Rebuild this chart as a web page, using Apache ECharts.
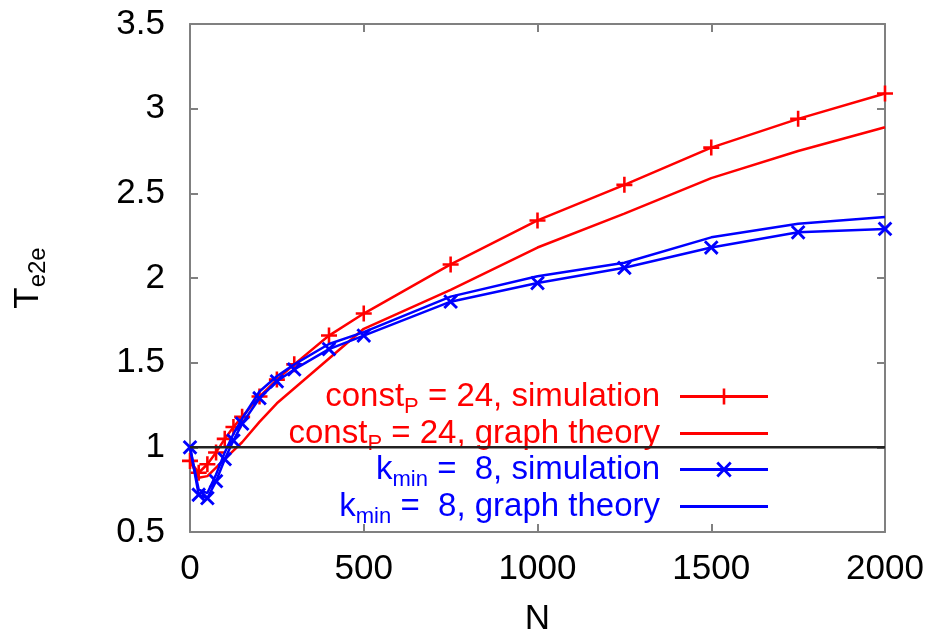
<!DOCTYPE html>
<html><head><meta charset="utf-8">
<script src="https://cdn.jsdelivr.net/npm/echarts@6/dist/echarts.min.js"></script>
<style>html,body{margin:0;padding:0;background:#fff;overflow:hidden}#c{width:944px;height:638px}</style>
</head><body><div id="c"></div>
<script>
const xTicks = [0, 500, 1000, 1500, 2000];
const yTicks = [0.5, 1, 1.5, 2, 2.5, 3, 3.5];

const redSimN   = [0, 25, 50, 75, 100, 125, 150, 200, 250, 300, 400, 500, 750, 1000, 1250, 1500, 1750, 2000];
const redSimV   = [0.92, 0.85, 0.90, 0.97, 1.05, 1.12, 1.18, 1.30, 1.40, 1.49, 1.66, 1.79, 2.08, 2.34, 2.55, 2.77, 2.94, 3.09];

const redThN    = [0, 25, 50, 75, 100, 125, 150, 200, 250, 500, 750, 1000, 1250, 1500, 1750, 2000];
const redThV    = [0.92, 0.82, 0.83, 0.88, 0.93, 0.98, 1.03, 1.15, 1.26, 1.70, 1.93, 2.18, 2.38, 2.59, 2.75, 2.89];

const blueSimN  = [0, 25, 50, 75, 100, 125, 150, 200, 250, 300, 400, 500, 750, 1000, 1250, 1500, 1750, 2000];
const blueSimV  = [1.00, 0.72, 0.70, 0.80, 0.93, 1.04, 1.14, 1.29, 1.39, 1.46, 1.58, 1.66, 1.86, 1.97, 2.06, 2.18, 2.27, 2.29];

const blueThN   = [0, 25, 50, 75, 100, 125, 150, 200, 250, 300, 400, 500, 750, 1000, 1250, 1500, 1750, 2000];
const blueThV   = [1.00, 0.75, 0.73, 0.84, 0.97, 1.08, 1.17, 1.33, 1.42, 1.49, 1.61, 1.68, 1.89, 2.01, 2.09, 2.24, 2.32, 2.36];

const refN = [0, 2000];
const refV = [1, 1];

const seriesNames = ['const_P = 24, simulation', 'const_P = 24, graph theory', 'k_min = 8, simulation', 'k_min = 8, graph theory'];

const zip = (a, b) => a.map((v, i) => [v, b[i]]);
const FONT = 'Liberation Sans, Arial, sans-serif';
const plusPath = 'path://M4.2,0H5.8V4.2H10V5.8H5.8V10H4.2V5.8H0V4.2H4.2Z';

const legendFmt = {
  'const_P = 24, simulation': '{n|const}{s|P}{n| = 24, simulation}',
  'const_P = 24, graph theory': '{n|const}{s|P}{n| = 24, graph theory}',
  'k_min = 8, simulation': '{n|k}{s|min}{n| =  8, simulation}',
  'k_min = 8, graph theory': '{n|k}{s|min}{n| =  8, graph theory}'
};
const legendColors = ['#ff0000', '#ff0000', '#0000ff', '#0000ff'];
const legendTops = [380, 417, 453, 490];
const corners = ' M0,0H0.01V0.01H0Z M87.99,15.99H88V16H87.99Z';
const iconLine  = 'path://M0,6.6H88V9.4H0Z' + corners;
const iconPlus  = 'path://M0,6.6H88V9.4H0Z M42.7,0H45.3V16H42.7Z M36,6.6H52V9.4H36Z' + corners;
const iconCross = 'path://M0,6.6H88V9.4H0Z M36.3,2L38.3,0L51.7,14L49.7,16Z M49.7,0L51.7,2L38.3,16L36.3,14Z' + corners;
const legendIcons = [iconPlus, iconLine, iconCross, iconLine];

const chart = echarts.init(document.getElementById('c'), null, {renderer: 'canvas'});

const axisLineStyle = {color: '#808080', width: 2};
const baseX = {type: 'value', min: 0, max: 2000, interval: 500,
  axisLine: {show: true, onZero: false, lineStyle: axisLineStyle},
  axisTick: {show: true, inside: true, length: 8, lineStyle: axisLineStyle},
  splitLine: {show: false}};
const baseY = {type: 'value', min: 0.5, max: 3.5, interval: 0.5,
  axisLine: {show: true, onZero: false, lineStyle: axisLineStyle},
  axisTick: {show: true, inside: true, length: 8, lineStyle: axisLineStyle},
  splitLine: {show: false}};

const option = {
  backgroundColor: '#ffffff',
  animation: false,
  grid: {left: 190, right: 59, top: 24, bottom: 106, containLabel: false, outerBoundsMode: 'none'},
  xAxis: [
    Object.assign({}, baseX, {position: 'bottom', name: 'N', nameLocation: 'middle', nameGap: 70,
      nameTextStyle: {fontFamily: FONT, fontSize: 35, color: '#000'},
      axisLabel: {show: true, fontFamily: FONT, fontSize: 35, color: '#000', margin: 20,
        formatter: v => xTicks.includes(v) ? String(v) : ''}}),
    Object.assign({}, baseX, {position: 'top', axisLabel: {show: false}})
  ],
  yAxis: [
    Object.assign({}, baseY, {position: 'left', name: '{n|T}{s|e2e}', nameLocation: 'middle', nameGap: 140,
      nameRotate: 90,
      nameTextStyle: {fontFamily: FONT, color: '#000',
        rich: {n: {fontFamily: FONT, fontSize: 35, color: '#000'},
               s: {fontFamily: FONT, fontSize: 24, color: '#000', padding: [20, 0, 0, 0]}}},
      axisLabel: {show: true, fontFamily: FONT, fontSize: 35, color: '#000', margin: 25,
        formatter: v => yTicks.includes(v) ? String(v) : ''}}),
    Object.assign({}, baseY, {position: 'right', axisLabel: {show: false}})
  ],
  legend: seriesNames.map((nm, i) => ({
    data: [{name: nm, icon: legendIcons[i]}], right: 176, top: legendTops[i], orient: 'vertical', align: 'right',
    padding: 0, itemWidth: 88, itemHeight: 16, itemGap: 0, selectedMode: false, symbolKeepAspect: false,
    itemStyle: {color: legendColors[i]},
    formatter: n => legendFmt[n],
    textStyle: {color: legendColors[i], fontFamily: FONT, fontSize: 33, padding: [0, 15, 0, 0],
      rich: {n: {fontFamily: FONT, fontSize: 33, color: legendColors[i]},
             s: {fontFamily: FONT, fontSize: 22, color: legendColors[i], padding: [20, 0, 0, 0]}}}
  })),
  series: [
    {name: seriesNames[0], type: 'line', data: zip(redSimN, redSimV), symbol: plusPath, symbolSize: 16,
      lineStyle: {color: '#ff0000', width: 2.5}, itemStyle: {color: '#ff0000'}, z: 3},
    {name: seriesNames[1], type: 'line', data: zip(redThN, redThV), symbol: 'none',
      lineStyle: {color: '#ff0000', width: 2.5}, itemStyle: {color: '#ff0000'}, z: 3},
    {name: seriesNames[2], type: 'line', data: zip(blueSimN, blueSimV), symbol: plusPath, symbolRotate: 45, symbolSize: 18,
      lineStyle: {color: '#0000ff', width: 2.5}, itemStyle: {color: '#0000ff'}, z: 4},
    {name: seriesNames[3], type: 'line', data: zip(blueThN, blueThV), symbol: 'none',
      lineStyle: {color: '#0000ff', width: 2.5}, itemStyle: {color: '#0000ff'}, z: 4},
    {name: 'ref', type: 'line', data: zip(refN, refV), symbol: 'none',
      lineStyle: {color: '#222222', width: 2.5}, z: 5}
  ]
};
chart.setOption(option);
</script></body></html>
